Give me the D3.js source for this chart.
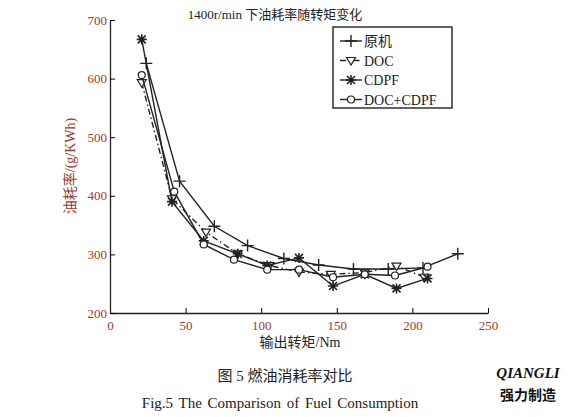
<!DOCTYPE html>
<html><head><meta charset="utf-8">
<script src="https://d3js.org/d3.v7.min.js"></script>
<style>
body{margin:0;background:#fff}
text{font-family:"Liberation Serif","Noto Sans CJK SC",serif}
</style></head>
<body><svg id="c" width="579" height="417"></svg>
<script>
var xs0 = [24,46,69,91,115,138,161,184,207,230];
var yOrig = [626,425,348,315,293,282,275,275,277,301];
var xsDoc = [21,41,63.5,84.5,105.5,125,146,168.5,189.5,208];
var yDoc = [593,395,338,301,281,270,266,269,280,261];
var xsCdpf = [21,41,62,84.5,104,125,147.5,168.5,189.5,210];
var yCdpf = [667,390,323,301,281,294,246,266,242,259];
var xsBoth = [21,42.5,62,82,104,125,147.5,168.5,188.5,210];
var yBoth = [606,407,317,291,274,274,261,266,264,279];
var xTicks = [0,50,100,150,200,250];
var yTicks = [200,300,400,500,600,700];
var names = ["原机","DOC","CDPF","DOC+CDPF"];

var svg = d3.select("#c");
var x = d3.scaleLinear().domain([0,250]).range([110,488]);
var y = d3.scaleLinear().domain([200,700]).range([313,20]);
var red = "#9a3b2e";

svg.append("g").attr("transform","translate(0,313)")
  .call(d3.axisBottom(x).tickValues(xTicks).tickSize(-5).tickSizeOuter(0))
  .call(g=>{g.select(".domain").attr("stroke","#222").attr("stroke-width",1.3);
    g.selectAll("text").attr("fill",red).attr("font-size",13).attr("dy","1.1em");});
svg.append("g").attr("transform","translate(110,0)")
  .call(d3.axisLeft(y).tickValues(yTicks).tickSize(-5).tickSizeOuter(0))
  .call(g=>{g.select(".domain").attr("stroke","#222").attr("stroke-width",1.3);
    g.selectAll("text").attr("fill",red).attr("font-size",13);});

var series = [
  {xs:xs0, ys:yOrig, dash:null, sym:"plus"},
  {xs:xsDoc, ys:yDoc, dash:"6,3,1.5,3", sym:"tri"},
  {xs:xsCdpf, ys:yCdpf, dash:null, sym:"star"},
  {xs:xsBoth, ys:yBoth, dash:null, sym:"circ"}
];
function marker(g, sym, cx, cy){
  if(sym=="plus"){g.append("path").attr("d",`M${cx-6},${cy}H${cx+6}M${cx},${cy-6}V${cy+6}`).attr("stroke","#222").attr("stroke-width",1.4);}
  if(sym=="tri"){g.append("path").attr("d",`M${cx-4.5},${cy-3}L${cx+4.5},${cy-3}L${cx},${cy+4.5}Z`).attr("fill","#fff").attr("stroke","#222").attr("stroke-width",1.2);}
  if(sym=="star"){g.append("path").attr("d",`M${cx-5},${cy}H${cx+5}M${cx},${cy-5}V${cy+5}M${cx-4},${cy-4}L${cx+4},${cy+4}M${cx-4},${cy+4}L${cx+4},${cy-4}`).attr("stroke","#222").attr("stroke-width",1.6);}
  if(sym=="circ"){g.append("circle").attr("cx",cx).attr("cy",cy).attr("r",3.5).attr("fill","#fff").attr("stroke","#222").attr("stroke-width",1.2);}
}
var line = d3.line().x(d=>x(d[0])).y(d=>y(d[1]));
series.forEach(s=>{
  var pts = s.xs.map((v,i)=>[v,s.ys[i]]);
  svg.append("path").attr("d",line(pts)).attr("fill","none").attr("stroke","#222")
    .attr("stroke-width",1.4).attr("stroke-dasharray",s.dash);
  var g = svg.append("g");
  pts.forEach(p=>marker(g,s.sym,x(p[0]),y(p[1])));
});

// legend
svg.append("rect").attr("x",333).attr("y",27).attr("width",119).attr("height",81)
  .attr("fill","#fff").attr("stroke","#222").attr("stroke-width",1.4);
names.forEach((n,i)=>{
  var ly = 41 + i*19.5;
  svg.append("line").attr("x1",340).attr("x2",362).attr("y1",ly).attr("y2",ly)
    .attr("stroke","#222").attr("stroke-width",1.4).attr("stroke-dasharray",series[i].dash);
  marker(svg,series[i].sym,351,ly);
  svg.append("text").attr("x",364).attr("y",ly+5).attr("font-size",14).attr("fill","#222").text(n);
});

svg.append("text").attr("x",275).attr("y",19).attr("text-anchor","middle").attr("font-size",13).attr("fill","#222").text("1400r/min 下油耗率随转矩变化");
svg.append("text").attr("x",300).attr("y",347).attr("text-anchor","middle").attr("font-size",14).attr("fill","#222").text("输出转矩/Nm");
svg.append("text").attr("transform","translate(75,166) rotate(-90)").attr("text-anchor","middle").attr("font-size",14).attr("fill",red).text("油耗率/(g/KWh)");
svg.append("text").attr("x",285).attr("y",381).attr("text-anchor","middle").attr("font-size",15).attr("fill","#222").text("图 5  燃油消耗率对比");
svg.append("text").attr("x",280).attr("y",408).attr("text-anchor","middle").attr("font-size",15).attr("fill","#222").attr("word-spacing",2).text("Fig.5 The Comparison of Fuel Consumption");
svg.append("text").attr("x",528).attr("y",378).attr("text-anchor","middle").attr("font-size",15).attr("font-weight","bold").attr("font-style","italic").attr("fill","#111").text("QIANGLI");
svg.append("text").attr("x",528).attr("y",400).attr("text-anchor","middle").attr("font-size",14).attr("font-weight","bold").attr("fill","#111").text("强力制造");
</script></body></html>
